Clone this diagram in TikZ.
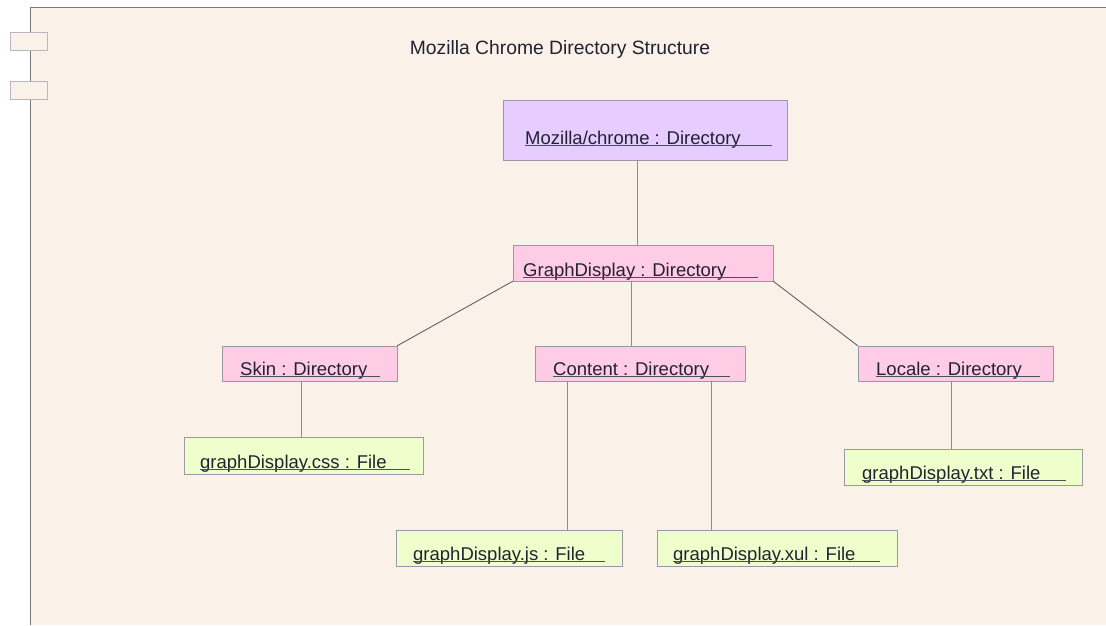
\documentclass[tikz,border=0pt]{standalone}
\usepackage{fontspec}
\setmainfont{Liberation Sans}
\definecolor{bg}{HTML}{FAF1E8}
\definecolor{lav}{HTML}{E6CCFF}
\definecolor{pinkf}{HTML}{FFCCE6}
\definecolor{greenf}{HTML}{EEFFCC}
\definecolor{edge}{HTML}{9898A8}
\definecolor{conn}{HTML}{8C8C8C}
\definecolor{txt}{HTML}{222233}
\tikzset{
  objbox/.style={draw=edge, line width=0.9pt},
  objtext/.style={anchor=base west, inner sep=0pt, font=\fontsize{18.5}{21}\selectfont, text=txt},
  uline/.style={draw=txt!80, line width=0.7pt},
  connector/.style={draw=conn, line width=0.9pt},
}
% #1 name, #2 x1, #3 y1, #4 x2, #5 y2, #6 fill, #7 text, #8 text x, #9 baseline y
\newcommand\objnode[9]{%
  \path[objbox, fill=#6] (#2,#3) rectangle (#4,#5);
  \node[inner sep=0pt, minimum width=#4-#2, minimum height=#5-#3] (#1) at ({(#2+#4)/2},{(#3+#5)/2}) {};
  \node[objtext] (#1t) at (#8,#9) {#7};
}
\newcommand\uln[2]{\draw[uline] ([yshift=-1.2pt]#1t.base west) -- ++(#2,0);}
\begin{document}
\begin{tikzpicture}[x=1pt,y=-1pt]
\useasboundingbox (0,0) rectangle (1106,625);
\fill[white] (0,0) rectangle (1106,625);
\fill[bg] (30,7) rectangle (1106,625);
\draw[edge!80!black, line width=1pt] (30,625) -- (30,7) -- (1106,7);
\path[draw=edge!70, fill=bg, line width=0.8pt] (10,32) rectangle (47,50);
\path[draw=edge!70, fill=bg, line width=0.8pt] (10,81) rectangle (47,99);
\node[inner sep=0pt, font=\fontsize{19.3}{22}\selectfont, text=txt] (title) at (560,50) {Mozilla Chrome Directory Structure};

\objnode{moz}{503}{100}{787}{160}{lav}{Mozilla/chrome : Directory}{525}{144}
\uln{moz}{247}
\objnode{gd}{513}{245}{773}{281}{pinkf}{GraphDisplay : Directory}{523}{276}
\uln{gd}{235}
\objnode{skin}{222}{346}{397}{381}{pinkf}{Skin : Directory}{240}{375}
\uln{skin}{140}
\objnode{cont}{535}{346}{745}{381}{pinkf}{Content : Directory}{553}{375}
\uln{cont}{177}
\objnode{loc}{858}{346}{1053}{381}{pinkf}{Locale : Directory}{876}{375}
\uln{loc}{164}
\objnode{css}{184}{437}{423}{474}{greenf}{graphDisplay.css : File}{200}{468}
\uln{css}{210}
\objnode{js}{396}{530}{622}{566}{greenf}{graphDisplay.js : File}{413}{560}
\uln{js}{192}
\objnode{xul}{657}{530}{897}{566}{greenf}{graphDisplay.xul : File}{673}{560}
\uln{xul}{207}
\objnode{txt}{844}{449}{1082}{485}{greenf}{graphDisplay.txt : File}{862}{479}
\uln{txt}{204}

\draw[connector] ([xshift=-8pt]moz.south) -- ([xshift=-8pt]moz.south |- gd.north);
\draw[connector, draw=conn!70!black] (gd.south west) -- (skin.north east);
\draw[connector] ([xshift=-9pt]cont.north |- gd.south) -- ([xshift=-9pt]cont.north);
\draw[connector, draw=conn!70!black] (gd.south east) -- (loc.north west);
\draw[connector] ([xshift=-8.5pt]skin.south) -- ([xshift=-8.5pt]skin.south |- css.north);
\draw[connector] ([xshift=-73pt]cont.south) -- ([xshift=-73pt]cont.south |- js.north);
\draw[connector] ([xshift=71pt]cont.south) -- ([xshift=71pt]cont.south |- xul.north);
\draw[connector] ([xshift=-4.5pt]loc.south) -- ([xshift=-4.5pt]loc.south |- txt.north);
\end{tikzpicture}
\end{document}
